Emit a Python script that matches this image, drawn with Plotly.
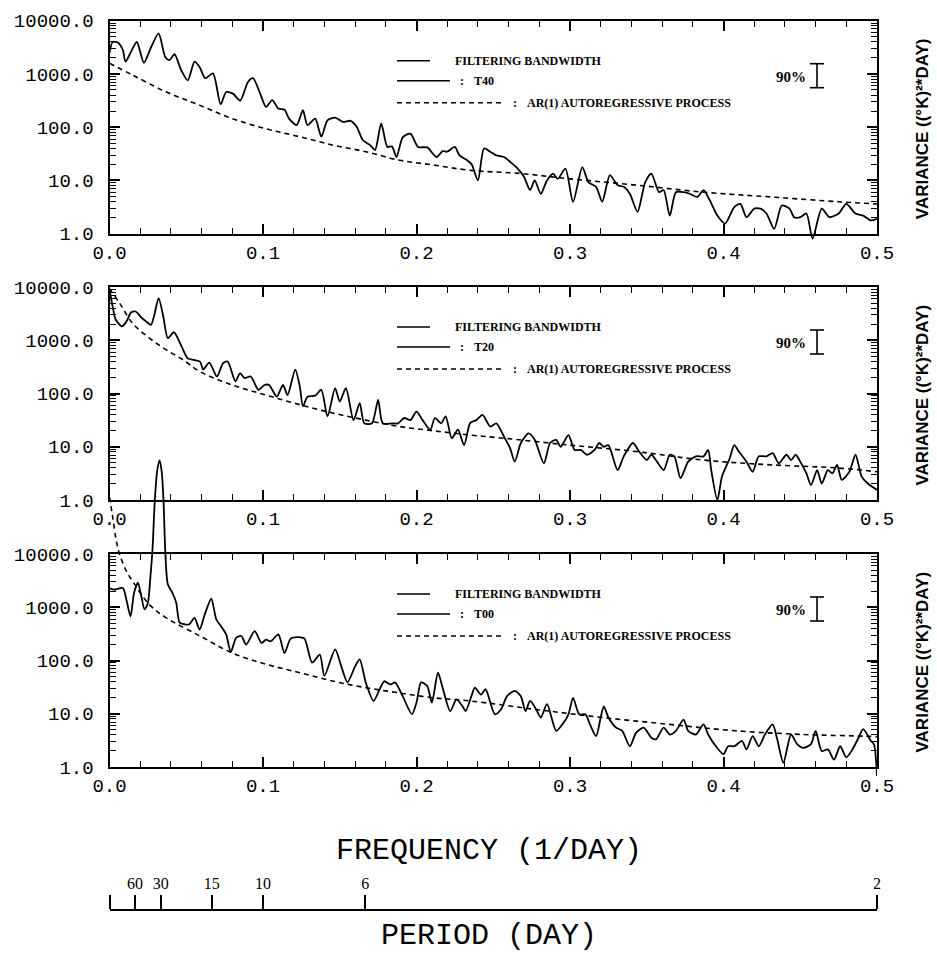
import plotly.graph_objects as go

# ---------------- data (variance given as log10 values) ----------------
t40_freq = [0.000, 0.002, 0.0054, 0.0087, 0.0104, 0.0141, 0.0178, 0.0224, 0.0272, 0.032, 0.0363, 0.039,
            0.0424, 0.0467, 0.051, 0.0554, 0.0587, 0.0624, 0.0674, 0.0724, 0.076, 0.0804, 0.0852, 0.0902,
            0.0935, 0.0978, 0.102, 0.106, 0.110, 0.114, 0.117, 0.122, 0.126, 0.129, 0.134, 0.138, 0.142,
            0.147, 0.152, 0.157, 0.161, 0.165, 0.170, 0.173, 0.177, 0.181, 0.184, 0.187, 0.191, 0.196,
            0.201, 0.207, 0.213, 0.217, 0.220, 0.225, 0.228, 0.233, 0.236, 0.240, 0.244, 0.248, 0.252,
            0.257, 0.261, 0.265, 0.270, 0.274, 0.277, 0.281, 0.285, 0.289, 0.292, 0.297, 0.302, 0.308,
            0.312, 0.317, 0.321, 0.326, 0.331, 0.335, 0.339, 0.344, 0.349, 0.353, 0.358, 0.361, 0.365,
            0.369, 0.374, 0.378, 0.383, 0.387, 0.391, 0.396, 0.401, 0.407, 0.411, 0.415, 0.420, 0.424,
            0.428, 0.433, 0.438, 0.443, 0.446, 0.450, 0.454, 0.458, 0.464, 0.469, 0.475, 0.480, 0.486,
            0.491, 0.496, 0.500]
t40_log = [3.39, 3.60, 3.59, 3.45, 3.23, 3.42, 3.60, 3.21, 3.51, 3.76, 3.32, 3.26,
           3.37, 3.07, 2.88, 3.23, 3.13, 2.92, 3.01, 2.43, 2.66, 2.63, 2.50, 2.85,
           2.92, 2.66, 2.38, 2.51, 2.35, 2.33, 2.16, 2.04, 2.32, 2.04, 2.16, 1.82, 2.13,
           2.18, 2.10, 2.12, 2.01, 1.76, 1.66, 1.57, 2.07, 1.63, 1.64, 1.44, 1.81, 1.88,
           1.63, 1.62, 1.44, 1.55, 1.54, 1.63, 1.47, 1.38, 1.30, 1.00, 1.60, 1.54, 1.47,
           1.44, 1.35, 1.25, 1.07, 0.82, 1.00, 0.75, 1.00, 1.13, 1.03, 1.22, 0.60, 1.25,
           0.97, 0.88, 0.60, 1.10, 0.91, 0.88, 0.75, 0.41, 0.97, 1.13, 0.78, 0.82, 0.34,
           0.78, 0.78, 0.75, 0.69, 0.82, 0.63, 0.34, 0.19, 0.50, 0.56, 0.31, 0.47, 0.47,
           0.38, 0.09, 0.53, 0.47, 0.31, 0.31, 0.38, -0.09, 0.47, 0.31, 0.38, 0.56, 0.38,
           0.34, 0.25, 0.28]

ar40_freq = [0.000, 0.015, 0.037, 0.059, 0.080, 0.102, 0.124, 0.146, 0.167, 0.189, 0.211, 0.235,
             0.268, 0.300, 0.344, 0.387, 0.431, 0.475, 0.500]
ar40_log = [3.20, 2.98, 2.66, 2.41, 2.16, 1.97, 1.82, 1.66, 1.54, 1.38, 1.29, 1.19,
            1.13, 1.03, 0.91, 0.78, 0.69, 0.60, 0.56]

t20_freq = [0.000, 0.002, 0.004, 0.008, 0.011, 0.014, 0.017, 0.021, 0.024, 0.027, 0.029, 0.032, 0.035,
            0.038, 0.042, 0.047, 0.051, 0.055, 0.059, 0.061, 0.065, 0.070, 0.074, 0.077, 0.082, 0.085,
            0.088, 0.092, 0.097, 0.101, 0.104, 0.109, 0.113, 0.116, 0.121, 0.124, 0.126, 0.129, 0.134,
            0.138, 0.142, 0.147, 0.150, 0.154, 0.159, 0.163, 0.166, 0.171, 0.175, 0.178, 0.184, 0.188,
            0.192, 0.196, 0.200, 0.204, 0.209, 0.212, 0.216, 0.219, 0.223, 0.227, 0.231, 0.235, 0.239,
            0.243, 0.248, 0.252, 0.257, 0.261, 0.264, 0.268, 0.273, 0.277, 0.283, 0.287, 0.291, 0.294,
            0.299, 0.303, 0.307, 0.311, 0.316, 0.319, 0.322, 0.325, 0.331, 0.335, 0.341, 0.345, 0.350,
            0.353, 0.356, 0.361, 0.365, 0.368, 0.372, 0.377, 0.382, 0.387, 0.390, 0.392, 0.396, 0.399,
            0.404, 0.407, 0.410, 0.415, 0.419, 0.423, 0.428, 0.432, 0.436, 0.441, 0.444, 0.447, 0.450,
            0.454, 0.457, 0.461, 0.464, 0.468, 0.471, 0.474, 0.477, 0.482, 0.486, 0.490, 0.494, 0.500]
t20_log = [3.95, 3.64, 3.39, 3.26, 3.35, 3.52, 3.54, 3.42, 3.35, 3.29, 3.45, 3.79, 3.45,
           3.04, 3.15, 2.88, 2.66, 2.63, 2.60, 2.45, 2.58, 2.32, 2.57, 2.60, 2.23, 2.38,
           2.29, 2.32, 2.07, 2.16, 2.16, 1.94, 2.16, 1.97, 2.45, 2.13, 1.76, 1.94, 1.96,
           2.07, 1.57, 2.10, 1.85, 2.10, 1.50, 1.82, 1.44, 1.44, 1.88, 1.44, 1.44, 1.44,
           1.54, 1.50, 1.66, 1.50, 1.32, 1.54, 1.44, 1.57, 1.16, 1.32, 1.03, 1.45, 1.50,
           1.60, 1.38, 1.44, 1.19, 0.97, 0.72, 1.07, 1.25, 1.13, 0.69, 1.07, 1.13, 1.00,
           1.22, 0.94, 0.94, 0.85, 0.94, 1.07, 1.00, 1.03, 0.56, 0.82, 1.07, 0.91, 0.75,
           0.85, 0.75, 0.56, 0.85, 0.82, 0.41, 0.72, 0.82, 0.82, 0.94, 0.56, 0.00, 0.44,
           0.78, 1.03, 0.91, 0.72, 0.53, 0.82, 0.82, 0.88, 0.69, 0.85, 0.75, 0.85, 0.72,
           0.50, 0.28, 0.56, 0.31, 0.56, 0.50, 0.66, 0.38, 0.53, 0.85, 0.44, 0.31, 0.19]

ar20_freq = [0.000, 0.0065, 0.015, 0.026, 0.037, 0.048, 0.059, 0.080, 0.102, 0.124, 0.146, 0.167,
             0.189, 0.211, 0.235, 0.257, 0.300, 0.343, 0.387, 0.431, 0.475, 0.500]
ar20_log = [3.97, 3.70, 3.32, 3.04, 2.82, 2.63, 2.41, 2.16, 1.97, 1.79, 1.63, 1.50,
            1.38, 1.30, 1.22, 1.16, 1.03, 0.91, 0.75, 0.66, 0.60, 0.53]

t00_freq = [0.000, 0.003, 0.0087, 0.011, 0.0137, 0.016, 0.0185, 0.0207, 0.0228, 0.025, 0.0265, 0.028,
            0.0295, 0.031, 0.0326, 0.034, 0.0352, 0.0363, 0.038, 0.041, 0.0435, 0.0457, 0.049, 0.052,
            0.0554, 0.0587, 0.062, 0.0663, 0.0696, 0.0728, 0.076, 0.079, 0.0826, 0.0859, 0.089, 0.0946,
            0.099, 0.102, 0.105, 0.110, 0.114, 0.118, 0.123, 0.127, 0.132, 0.137, 0.140, 0.147, 0.151,
            0.155, 0.160, 0.163, 0.167, 0.172, 0.176, 0.179, 0.183, 0.186, 0.191, 0.197, 0.200, 0.203,
            0.207, 0.210, 0.214, 0.217, 0.222, 0.226, 0.230, 0.232, 0.236, 0.238, 0.242, 0.245, 0.251,
            0.255, 0.259, 0.264, 0.268, 0.271, 0.274, 0.278, 0.281, 0.285, 0.291, 0.295, 0.299, 0.302,
            0.306, 0.310, 0.313, 0.317, 0.320, 0.322, 0.325, 0.330, 0.334, 0.339, 0.343, 0.348, 0.353,
            0.356, 0.361, 0.365, 0.369, 0.374, 0.377, 0.382, 0.387, 0.390, 0.394, 0.400, 0.403, 0.407,
            0.412, 0.415, 0.419, 0.423, 0.427, 0.432, 0.435, 0.439, 0.444, 0.448, 0.452, 0.457, 0.460,
            0.464, 0.468, 0.472, 0.476, 0.480, 0.484, 0.488, 0.491, 0.496, 0.498, 0.500]
t00_log = [3.36, 3.33, 3.36, 3.14, 2.83, 3.27, 3.46, 3.21, 2.96, 3.08, 3.52, 4.08,
           5.00, 5.55, 5.76, 5.55, 5.00, 4.08, 3.43, 3.27, 3.08, 2.71, 2.68, 2.68,
           2.80, 2.58, 2.86, 3.16, 2.77, 2.64, 2.49, 2.16, 2.43, 2.46, 2.30, 2.55,
           2.33, 2.39, 2.36, 2.49, 2.14, 2.41, 2.44, 2.41, 1.96, 2.11, 1.71, 2.21, 1.89,
           1.59, 1.89, 2.02, 1.58, 1.24, 1.46, 1.61, 1.55, 1.59, 1.33, 0.99, 1.21, 1.59,
           1.52, 1.21, 1.77, 1.49, 1.05, 1.27, 1.14, 1.05, 1.35, 1.49, 1.36, 1.46, 0.99,
           1.08, 1.33, 1.43, 1.33, 1.05, 1.24, 1.08, 0.93, 1.18, 0.68, 0.80, 0.99, 1.30,
           0.99, 0.99, 0.80, 0.58, 0.93, 1.14, 0.93, 0.74, 0.68, 0.39, 0.64, 0.74, 0.55,
           0.52, 0.74, 0.61, 0.68, 0.89, 0.68, 0.61, 0.80, 0.61, 0.43, 0.24, 0.39, 0.39,
           0.49, 0.33, 0.58, 0.39, 0.61, 0.80, 0.52, 0.08, 0.61, 0.43, 0.36, 0.43, 0.68,
           0.30, 0.33, 0.14, 0.39, 0.18, 0.33, 0.55, 0.71, 0.49, 0.43, -0.17]

ar00_freq = [0.000, 0.002, 0.0043, 0.0065, 0.011, 0.015, 0.026, 0.037, 0.059, 0.080, 0.102, 0.124,
             0.146, 0.167, 0.189, 0.211, 0.235, 0.278, 0.321, 0.365, 0.408, 0.452, 0.491, 0.500]
ar00_log = [5.07, 4.71, 4.27, 4.00, 3.68, 3.49, 3.05, 2.80, 2.46, 2.14, 1.93, 1.77,
            1.61, 1.49, 1.39, 1.30, 1.24, 1.08, 0.93, 0.80, 0.68, 0.61, 0.58, 0.57]

series_names = ["T40", "T20", "T00"]
x_tick_vals = [0.0, 0.1, 0.2, 0.3, 0.4, 0.5]
x_tick_text = ["0.0", "0.1", "0.2", "0.3", "0.4", "0.5"]
y_tick_vals = [1, 10, 100, 1000, 10000]
y_tick_text = ["1.0", "10.0", "100.0", "1000.0", "10000.0"]
period_days = [60, 30, 15, 10, 6, 2]
period_labels = ["60", "30", "15", "10", "6", "2"]

# ---------------- layout helpers ----------------
W, H = 937, 960
MONO = "Liberation Mono, Courier New, monospace"
SERIF = "Liberation Serif, Times New Roman, serif"
SANS = "Liberation Sans, Arial, sans-serif"


def fy(py):
    return 1 - py / H


def aid(letter, n):
    return letter if n == 1 else f"{letter}{n}"


X0, X1 = 109.5, 877.0
xdom = [X0 / W, X1 / W]
panel_tops = [20.7, 287.0, 554.0]
PH = 213.0


def fxd(px):
    return (px - X0) / (X1 - X0)


spectra = [(t40_freq, t40_log), (t20_freq, t20_log), (t00_freq, t00_log)]
ars = [(ar40_freq, ar40_log), (ar20_freq, ar20_log), (ar00_freq, ar00_log)]

minor_y = [d * 10 ** k for k in range(0, 4) for d in range(2, 10)]

fig = go.Figure()
layout = dict(
    width=W, height=H, margin=dict(l=0, r=0, t=0, b=0, pad=0, autoexpand=False),
    paper_bgcolor="white", plot_bgcolor="rgba(0,0,0,0)",
    showlegend=False,
)
shapes = []
annotations = []


def placeholder(xa, ya):
    # empty trace so that the frame subplot is created and drawn
    fig.add_trace(go.Scatter(x=[None], y=[None], mode="lines", xaxis=xa, yaxis=ya,
                             hoverinfo="skip", showlegend=False))


for i in range(3):
    top = panel_tops[i]
    d0, d1 = fy(top + PH), fy(top)
    vi = i + 1          # visible frame axes
    di = i + 4          # invisible data axes (extended so lines can overshoot the frame)
    vx, vy = aid("x", vi), aid("y", vi)
    dx, dy = aid("x", di), aid("y", di)

    layout["xaxis" + ("" if vi == 1 else str(vi))] = dict(
        domain=xdom, anchor=vy, range=[0, 0.5], showgrid=False, zeroline=False, automargin=False,
        showline=True, linecolor="black", linewidth=2, mirror="allticks",
        ticks="inside", ticklen=10, tickwidth=1.6, tickcolor="black",
        tickmode="array", tickvals=x_tick_vals, ticktext=x_tick_text,
        tickfont=dict(family=MONO, size=19, color="black"),
        minor=dict(ticks="inside", ticklen=6, tickwidth=1.3, tickcolor="black",
                   tick0=0, dtick=0.02, showgrid=False),
    )
    layout["yaxis" + ("" if vi == 1 else str(vi))] = dict(
        domain=[d0, d1], anchor=vx, type="log", range=[0, 4], showgrid=False, automargin=False,
        zeroline=False, showline=True, linecolor="black", linewidth=2, mirror="allticks",
        ticks="inside", ticklen=10, tickwidth=1.6, tickcolor="black",
        tickmode="array", tickvals=y_tick_vals, ticktext=y_tick_text,
        tickfont=dict(family=MONO, size=19, color="black"), ticklabelstandoff=10,
        minor=dict(ticks="inside", ticklen=6, tickwidth=1.1, tickcolor="black",
                   tickmode="array", tickvals=minor_y, showgrid=False),
    )
    placeholder(vx, vy)

    dec_per_frac = 4.0 / (d1 - d0)
    ext_b = 0.035
    ext_t = min(0.14, 1.0 - d1)
    layout[f"xaxis{di}"] = dict(domain=xdom, anchor=dy, range=[0, 0.5], visible=False, automargin=False)
    layout[f"yaxis{di}"] = dict(domain=[d0 - ext_b, d1 + ext_t], anchor=dx, type="log", automargin=False,
                                range=[-ext_b * dec_per_frac, 4 + ext_t * dec_per_frac], visible=False)

    fq, lg = spectra[i]
    fig.add_trace(go.Scatter(
        x=fq, y=[10 ** v for v in lg], mode="lines", xaxis=dx, yaxis=dy,
        line=dict(color="black", width=1.8, shape="spline", smoothing=0.7), name=series_names[i]))
    afq, alg = ars[i]
    fig.add_trace(go.Scatter(
        x=afq, y=[10 ** v for v in alg], mode="lines", xaxis=dx, yaxis=dy,
        line=dict(color="black", width=1.6, dash="5px,4px", shape="spline", smoothing=1.0),
        name="AR(1)"))

    # legend block (drawn in the panel's domain coordinates)
    xr, yr = f"{vx} domain", f"{vy} domain"
    rows = [1 - 40 / PH, 1 - 60 / PH, 1 - 82 / PH]
    lx0 = fxd(397)
    shapes.append(dict(type="line", xref=xr, yref=yr, x0=lx0, x1=fxd(430), y0=rows[0], y1=rows[0],
                       line=dict(color="black", width=1.6)))
    shapes.append(dict(type="line", xref=xr, yref=yr, x0=lx0, x1=fxd(450), y0=rows[1], y1=rows[1],
                       line=dict(color="black", width=1.6)))
    shapes.append(dict(type="line", xref=xr, yref=yr, x0=lx0, x1=fxd(505), y0=rows[2], y1=rows[2],
                       line=dict(color="black", width=1.6, dash="5px,4px")))
    lf = dict(family=SERIF, size=12, color="black")
    annotations.append(dict(xref=xr, yref=yr, x=fxd(453), y=rows[0], text="<b>FILTERING BANDWIDTH</b>",
                            showarrow=False, xanchor="left", yanchor="middle", font=lf))
    annotations.append(dict(xref=xr, yref=yr, x=fxd(458), y=rows[1], text="<b>:</b>",
                            showarrow=False, xanchor="left", yanchor="middle", font=lf))
    annotations.append(dict(xref=xr, yref=yr, x=fxd(472), y=rows[1], text=f"<b>{series_names[i]}</b>",
                            showarrow=False, xanchor="left", yanchor="middle", font=lf))
    annotations.append(dict(xref=xr, yref=yr, x=fxd(511), y=rows[2], text="<b>:</b>",
                            showarrow=False, xanchor="left", yanchor="middle", font=lf))
    annotations.append(dict(xref=xr, yref=yr, x=fxd(525), y=rows[2],
                            text="<b>AR(1) AUTOREGRESSIVE PROCESS</b>",
                            showarrow=False, xanchor="left", yanchor="middle", font=lf))
    # 90% confidence bar
    bx = fxd(817)
    cap = 7 / (X1 - X0)
    b_top, b_bot = 1 - 43 / PH, 1 - 67 / PH
    shapes.append(dict(type="line", xref=xr, yref=yr, x0=bx, x1=bx, y0=b_bot, y1=b_top,
                       line=dict(color="black", width=1.6)))
    shapes.append(dict(type="line", xref=xr, yref=yr, x0=bx - cap, x1=bx + cap, y0=b_top, y1=b_top,
                       line=dict(color="black", width=1.6)))
    shapes.append(dict(type="line", xref=xr, yref=yr, x0=bx - cap, x1=bx + cap, y0=b_bot, y1=b_bot,
                       line=dict(color="black", width=1.6)))
    annotations.append(dict(xref=xr, yref=yr, x=fxd(808), y=1 - 56 / PH, text="<b>90%</b>",
                            showarrow=False, xanchor="right", yanchor="middle",
                            font=dict(family=SERIF, size=15, color="black")))
    # right-side axis title
    annotations.append(dict(xref="paper", yref="paper", x=922 / W, y=fy(top + PH / 2 + 2),
                            text="<b>VARIANCE ((°K)²*DAY)</b>", textangle=-90, showarrow=False,
                            xanchor="center", yanchor="middle",
                            font=dict(family=SANS, size=17, color="black")))

# period (day) axis
layout["xaxis7"] = dict(
    domain=xdom, anchor="y7", side="top", range=[0, 0.5], showgrid=False, zeroline=False,
    automargin=False,
    showline=True, linecolor="black", linewidth=2, ticks="outside", ticklen=14, tickwidth=1.6,
    tickcolor="black", tickmode="array",
    tickvals=[0.0] + [1.0 / p for p in period_days], ticktext=[""] + period_labels,
    tickfont=dict(family=SERIF, size=16, color="black"),
)
layout["yaxis7"] = dict(domain=[fy(935), fy(911)], anchor="x7", visible=False, range=[0, 1],
                        automargin=False)
placeholder("x7", "y7")

annotations.append(dict(xref="paper", yref="paper", x=489 / W, y=fy(851), text="FREQUENCY (1/DAY)",
                        showarrow=False, xanchor="center", yanchor="middle",
                        font=dict(family=MONO, size=30, color="black")))
annotations.append(dict(xref="paper", yref="paper", x=489 / W, y=fy(936), text="PERIOD (DAY)",
                        showarrow=False, xanchor="center", yanchor="middle",
                        font=dict(family=MONO, size=30, color="black")))

layout["shapes"] = shapes
layout["annotations"] = annotations
fig.update_layout(**layout)
fig.write_html("out.html")
